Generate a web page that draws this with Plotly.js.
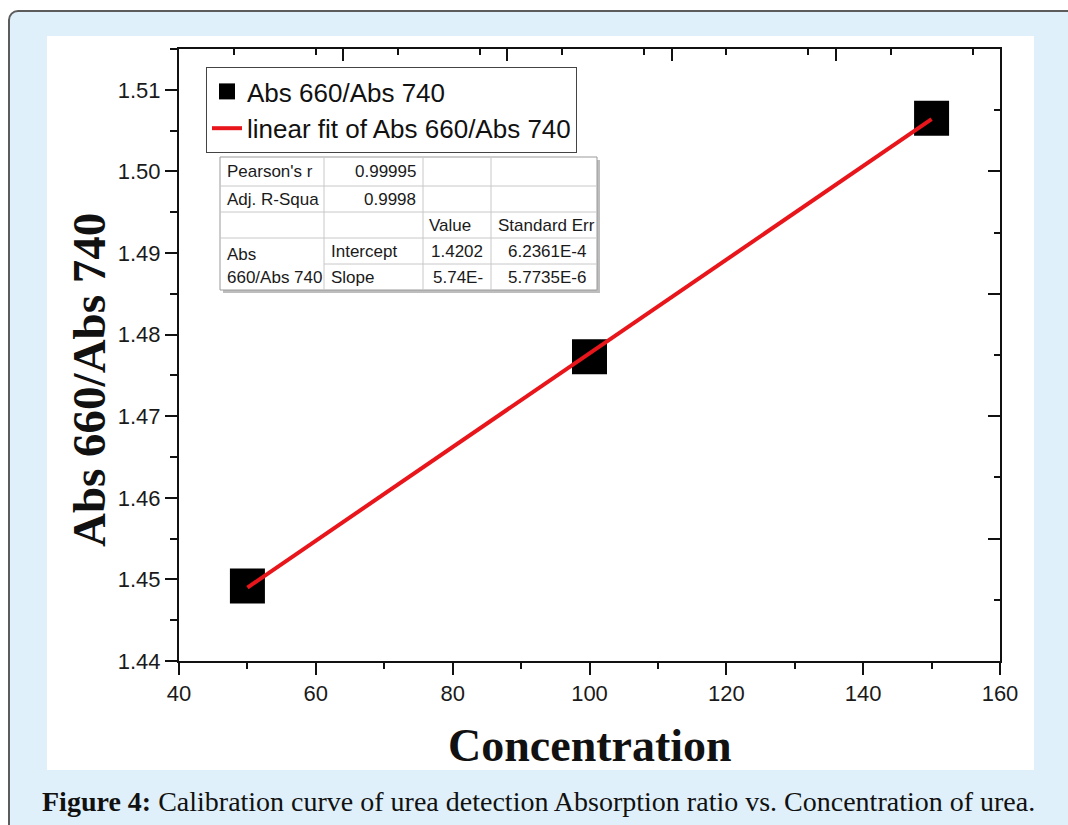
<!DOCTYPE html>
<html>
<head>
<meta charset="utf-8">
<script src="https://cdn.plot.ly/plotly-3.0.1.min.js"></script>
<style>
  html, body { margin:0; padding:0; background:#ffffff; width:1068px; height:825px; overflow:hidden; }
  #frame { position:absolute; left:8px; top:10px; width:1080px; height:840px; border:2px solid #5c5c5c; border-radius:10px; background:#dff0fa; box-sizing:border-box; }
  #panel { position:absolute; left:47px; top:36px; width:987px; height:734px; background:#ffffff; }
  #chart { position:absolute; left:0; top:0; width:1068px; height:825px; }
</style>
</head>
<body>
<div id="frame"></div>
<div id="panel"></div>
<div id="chart"></div>
<script>
// ---- data ----
const concentration = [50, 100, 150];
const absRatio = [1.4492, 1.4773, 1.5065];
const fitX = [50, 150];
const fitY = [1.4490, 1.5064];
const seriesLabel = "Abs 660/Abs 740";
const fitLabel = "linear fit of Abs 660/Abs 740";
const xTitle = "Concentration";
const yTitle = "Abs 660/Abs 740";
const captionBold = "Figure 4:";
const captionText = "Calibration curve of urea detection Absorption ratio vs. Concentration of urea.";

// fit report table contents
const statNames = ["Pearson's r", "Adj. R-Squa"];
const statValues = ["0.99995", "0.9998"];
const paramHeader = ["Value", "Standard Err"];
const seriesName = ["Abs", "660/Abs 740"];
const paramNames = ["Intercept", "Slope"];
const paramValues = ["1.4202", "5.74E-"];
const paramErrors = ["6.2361E-4", "5.7735E-6"];

// ---- pixel helpers (plot area 179..1000 x 49..661) ----
const L = 179, T = 49, W = 821, H = 612;
const px = x => (x - L) / W;
const py = y => (T + H - y) / H;

const sans = "Liberation Sans, Arial, sans-serif";
const serif = "Liberation Serif, Times New Roman, serif";

const traces = [
  {
    x: concentration, y: absRatio, type: 'scatter', mode: 'markers', name: seriesLabel,
    marker: { symbol: 'square', size: 35, color: '#000000', line: { width: 0 } },
    cliponaxis: false
  },
  {
    x: fitX, y: fitY, type: 'scatter', mode: 'lines', name: fitLabel,
    line: { color: '#e8151b', width: 4 }
  },
  {
    x: concentration, y: absRatio, type: 'scatter', mode: 'markers', xaxis: 'x2', yaxis: 'y2',
    marker: { opacity: 0, size: 1 }, showlegend: false, hoverinfo: 'skip'
  }
];

// ---- table shapes and texts ----
const cols = [220, 324, 423, 491, 597];
const rows = [157, 186, 212, 238, 264, 290];
const shapes = [];
const annotations = [];
const gridColor = '#c8c8c8';

// shadow
shapes.push({ type: 'rect', xref: 'paper', yref: 'paper', x0: px(cols[0] + 3), x1: px(cols[4] + 3), y0: py(rows[0] + 3), y1: py(rows[5] + 3), fillcolor: '#bdbdbd', line: { width: 0 }, layer: 'above' });
shapes.push({ type: 'rect', xref: 'paper', yref: 'paper', x0: px(cols[0]), x1: px(cols[4]), y0: py(rows[0]), y1: py(rows[5]), fillcolor: '#ffffff', line: { color: '#9a9a9a', width: 1 }, layer: 'above' });
// horizontal grid
[rows[1], rows[2], rows[3]].forEach(y => shapes.push({ type: 'line', xref: 'paper', yref: 'paper', x0: px(cols[0]), x1: px(cols[4]), y0: py(y), y1: py(y), line: { color: gridColor, width: 1 }, layer: 'above' }));
shapes.push({ type: 'line', xref: 'paper', yref: 'paper', x0: px(cols[1]), x1: px(cols[4]), y0: py(rows[4]), y1: py(rows[4]), line: { color: gridColor, width: 1 }, layer: 'above' });
// vertical grid
[cols[1], cols[2], cols[3]].forEach(x => shapes.push({ type: 'line', xref: 'paper', yref: 'paper', x0: px(x), x1: px(x), y0: py(rows[0]), y1: py(rows[5]), line: { color: gridColor, width: 1 }, layer: 'above' }));

const tf = { family: sans, size: 17, color: '#1a1a1a' };
function cell(text, x, y, anchor) {
  annotations.push({ xref: 'paper', yref: 'paper', x: px(x), y: py(y), text: text, showarrow: false, xanchor: anchor, yanchor: 'middle', font: tf });
}
const rc = i => (rows[i] + rows[i + 1]) / 2;
statNames.forEach((t, i) => cell(t, cols[0] + 5, rc(i), 'left'));
statValues.forEach((t, i) => cell(t, cols[2] - 5, rc(i), 'right'));
cell(paramHeader[0], cols[2] + 4, rc(2), 'left');
cell(paramHeader[1], cols[3] + 5, rc(2), 'left');
cell(seriesName[0], cols[0] + 5, rc(3) + 3, 'left');
cell(seriesName[1], cols[0] + 5, rc(4), 'left');
paramNames.forEach((t, i) => cell(t, cols[1] + 5, rc(3 + i), 'left'));
paramValues.forEach((t, i) => cell(t, cols[3] - 6, rc(3 + i), 'right'));
paramErrors.forEach((t, i) => cell(t, cols[4] - 9, rc(3 + i), 'right'));

// titles and caption
annotations.push({ xref: 'paper', yref: 'paper', x: px(590), y: py(745), text: '<b>' + xTitle + '</b>', showarrow: false, xanchor: 'center', yanchor: 'middle', font: { family: serif, size: 46, color: '#111111' } });
annotations.push({ xref: 'paper', yref: 'paper', x: px(89), y: py(380), text: '<b>' + yTitle + '</b>', textangle: -90, showarrow: false, xanchor: 'center', yanchor: 'middle', font: { family: serif, size: 47, color: '#111111' } });
annotations.push({ xref: 'paper', yref: 'paper', x: px(40), y: py(801), text: '<b>' + captionBold + '</b> ' + captionText, showarrow: false, xanchor: 'left', yanchor: 'middle', font: { family: serif, size: 28, color: '#111111' } });

const axisCommon = { showgrid: false, zeroline: false, showline: true, linecolor: '#111111', linewidth: 2, tickcolor: '#111111', tickwidth: 2 };

const layout = {
  width: 1068, height: 825,
  margin: { l: L, r: 1068 - L - W, t: T, b: 825 - T - H, pad: 0 },
  paper_bgcolor: 'rgba(0,0,0,0)',
  plot_bgcolor: '#ffffff',
  showlegend: true,
  legend: {
    x: px(206), y: py(67), xanchor: 'left', yanchor: 'top',
    bgcolor: '#ffffff', bordercolor: '#444444', borderwidth: 1,
    font: { family: sans, size: 26, color: '#111111' },
    tracegroupgap: 0
  },
  xaxis: Object.assign({}, axisCommon, {
    range: [40, 160], tick0: 40, dtick: 20, ticks: 'outside', ticklen: 12,
    minor: { dtick: 10, ticklen: 6, tickwidth: 2, tickcolor: '#111111', ticks: 'outside' },
    tickfont: { family: sans, size: 22, color: '#1a1a1a' }, anchor: 'y'
  }),
  yaxis: Object.assign({}, axisCommon, {
    range: [1.44, 1.515], tick0: 1.44, dtick: 0.01, tickformat: '.2f', ticks: 'outside', ticklen: 12,
    minor: { dtick: 0.005, ticklen: 7, tickwidth: 2, tickcolor: '#111111', ticks: 'outside' },
    tickfont: { family: sans, size: 22, color: '#1a1a1a' }, anchor: 'x'
  }),
  xaxis2: Object.assign({}, axisCommon, {
    overlaying: 'x', side: 'top', anchor: 'y', range: [40, 160], tick0: 40, dtick: 24,
    ticks: 'inside', ticklen: 12, showticklabels: false,
    minor: { dtick: 12, ticklen: 6, tickwidth: 2, tickcolor: '#111111', ticks: 'inside' }
  }),
  yaxis2: Object.assign({}, axisCommon, {
    overlaying: 'y', side: 'right', anchor: 'x', range: [1.44, 1.515], tick0: 1.44, dtick: 0.015,
    ticks: 'inside', ticklen: 12, showticklabels: false,
    minor: { dtick: 0.0075, ticklen: 6, tickwidth: 2, tickcolor: '#111111', ticks: 'inside' }
  }),
  shapes: shapes,
  annotations: annotations
};

Plotly.newPlot('chart', traces, layout, { displayModeBar: false, staticPlot: true });
</script>
</body>
</html>
